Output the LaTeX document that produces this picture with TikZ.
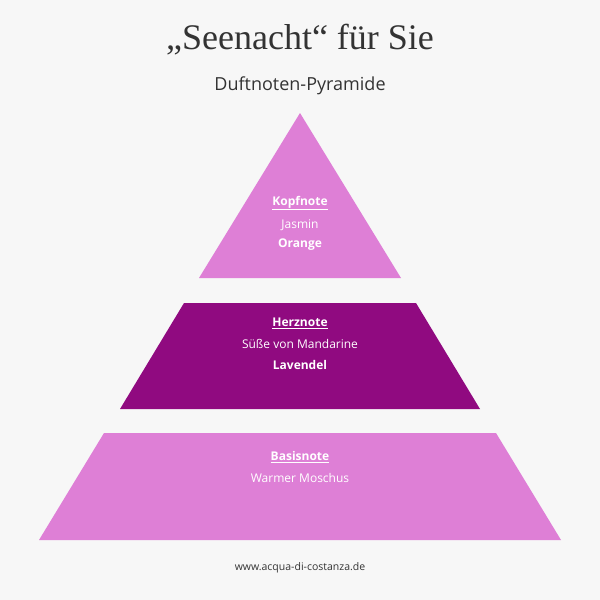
\documentclass[tikz,border=0pt]{standalone}
\usepackage{fontspec}
\setmainfont{Open Sans}
\newfontfamily\titlefont{Liberation Serif}
\definecolor{bg}{HTML}{F7F7F7}
\definecolor{light}{HTML}{DE7FD6}
\definecolor{dark}{HTML}{900A80}
\definecolor{ink}{HTML}{333333}
\tikzset{lbl/.style={text=white,font=\fontsize{12}{14}\selectfont,inner sep=0pt},
tier/.style={draw=none}}
\begin{document}
\begin{tikzpicture}[x=1pt,y=-1pt]
\fill[bg] (0,0) rectangle (600,600);
\useasboundingbox (0,0) rectangle (600,600);
\node[text=ink,font=\titlefont\fontsize{36}{40}\selectfont] (t) at (300,40) {„Seenacht“ für Sie};
\node[text=ink,font=\fontsize{18}{22}\selectfont] (s) at (300,86) {Duftnoten-Pyramide};
\fill[light] (300,113) -- (401,278) -- (199,278) -- cycle;
\fill[dark] (184,303) -- (416,303) -- (480,409) -- (120,409) -- cycle;
\fill[light] (104,433) -- (496,433) -- (561,540) -- (39,540) -- cycle;
\node[lbl,font=\bfseries\fontsize{12}{14}\selectfont] (k1) at (300,203) {\underline{Kopfnote}};
\node[lbl] (k2) at (300,225) {Jasmin};
\node[lbl,font=\bfseries\fontsize{12}{14}\selectfont] (k3) at (300,245) {Orange};
\node[lbl,font=\bfseries\fontsize{12}{14}\selectfont] (h1) at (300,323) {\underline{Herznote}};
\node[lbl] (h2) at (300,344) {Süße von Mandarine};
\node[lbl,font=\bfseries\fontsize{12}{14}\selectfont] (h3) at (300,365) {Lavendel};
\node[lbl,font=\bfseries\fontsize{12}{14}\selectfont] (b1) at (300,457) {\underline{Basisnote}};
\node[lbl] (b2) at (300,478) {Warmer Moschus};
\node[text=ink,font=\fontsize{10.5}{12}\selectfont] (u) at (300,568) {www.acqua-di-costanza.de};
\end{tikzpicture}
\end{document}
